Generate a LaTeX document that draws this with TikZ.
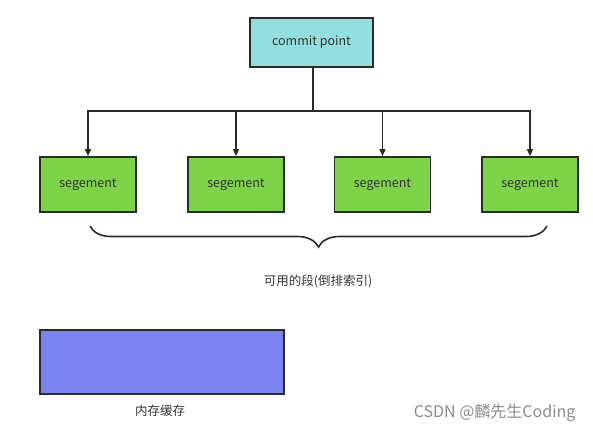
\documentclass[tikz,border=0pt]{standalone}
\usepackage{fontspec}
\setmainfont{Noto Sans CJK SC}
\usetikzlibrary{arrows.meta,decorations.pathreplacing}
\definecolor{lc}{HTML}{2B2B2B}
\definecolor{cpfill}{HTML}{93DFE0}
\definecolor{segfill}{HTML}{7ED348}
\definecolor{memfill}{HTML}{7A84EE}
\newcommand{\dn}[1]{\raisebox{-1.5pt}{#1}}
\begin{document}
\begin{tikzpicture}[x=1pt,y=-1pt,
  box/.style={draw=lc,line width=1.7pt,inner sep=0pt,font=\fontsize{12.5}{14}\selectfont,text=black!80},
  segbox/.style={box,fill=segfill,minimum width=96pt,minimum height=55pt},
  arr/.style={draw=lc,line width=1.5pt,-{Triangle[length=7pt,width=6pt]}},
  lbl/.style={font=\fontsize{12.5}{14}\selectfont,text=black!80}]
\useasboundingbox (0,0) rectangle (593,434);
\node[box,fill=cpfill,minimum width=123pt,minimum height=49pt] (cp) at (311.5,42.5) {\dn{commit point}};
\node[segbox] (s1) at (88,184.5) {\dn{segement}};
\node[segbox] (s2) at (236,184.5) {\dn{segement}};
\node[segbox] (s3) at (382.5,184.5) {\dn{segement}};
\node[segbox] (s4) at (530,184.5) {\dn{segement}};
\coordinate (j) at (313,111);
\draw[draw=lc,line width=1.5pt] (cp.south -| j) -- (j);
\foreach \s in {s1,s2,s3,s4} \draw[arr] (j) -| (\s.north);
\coordinate (br) at (547,226);
\coordinate (bl) at (90,226);
\draw[draw=lc,line width=1.6pt,decorate,decoration={brace,amplitude=21pt,aspect=0.5}] (br) -- (bl);
\node[lbl] (t1) at (318,281) {\dn{可用的段(倒排索引)}};
\node[box,fill=memfill,minimum width=244pt,minimum height=64pt] (mem) at (162,362) {};
\node[lbl] (t2) at (160,411) {\dn{内存缓存}};
\node[font=\fontsize{16}{18}\selectfont,text=black!45,anchor=east] (wm) at (579,413) {CSDN @麟先生Coding};
\end{tikzpicture}
\end{document}
